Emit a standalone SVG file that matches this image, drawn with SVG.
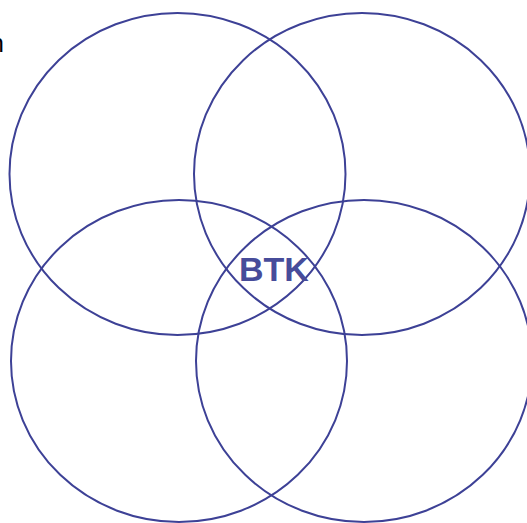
<svg xmlns="http://www.w3.org/2000/svg" width="527" height="523" viewBox="0 0 527 523">
<style>
.c{fill:none;stroke:#3d4196;stroke-width:2}
.lbl{font-family:"Liberation Sans",Arial,sans-serif;font-weight:bold;fill:#474c9a}
</style>
<rect width="527" height="523" fill="#fff"/>
<text x="4" y="52" text-anchor="end" style="font-family:'Liberation Sans',Arial,sans-serif;font-size:25px;fill:#000">n</text>
<g id="connectors"></g>
<g id="circle-tl"><ellipse class="c" cx="177.5" cy="174" rx="168" ry="161"/></g>
<g id="circle-tr"><ellipse class="c" cx="362" cy="174" rx="168" ry="161"/></g>
<g id="circle-bl"><ellipse class="c" cx="179" cy="361" rx="168" ry="161"/></g>
<g id="circle-br"><ellipse class="c" cx="364" cy="361" rx="168" ry="161"/></g>
<g id="center"><text class="lbl" x="274" y="281" text-anchor="middle" font-size="34">BTK</text></g>
</svg>
